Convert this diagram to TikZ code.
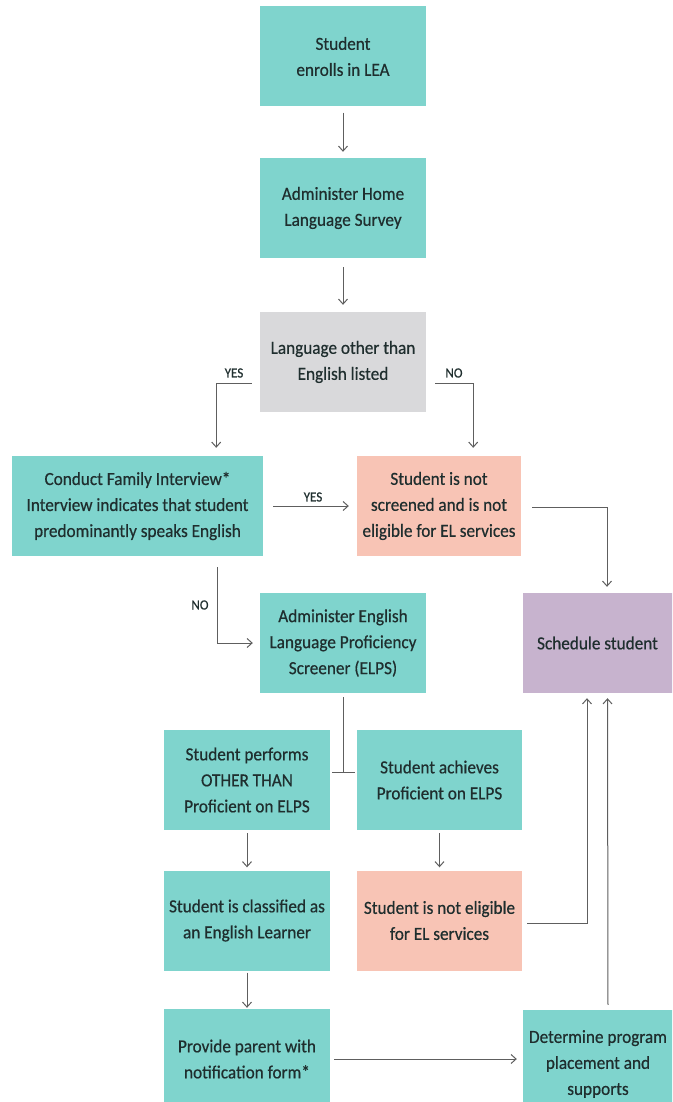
\documentclass[tikz,border=0pt]{standalone}
\usepackage{fontspec}
\setmainfont{Carlito}[FakeStretch=0.93, FakeBold=0.5]
\usetikzlibrary{arrows.meta}
\definecolor{tealbox}{HTML}{7FD4CD}
\definecolor{salmonbox}{HTML}{F8C4B5}
\definecolor{greybox}{HTML}{D9D9DB}
\definecolor{lilacbox}{HTML}{C7B3CE}
\definecolor{ink}{HTML}{1F2E2E}
\definecolor{wire}{HTML}{5E5E5E}

\begin{document}
\begin{tikzpicture}[
    x=1pt, y=-1pt,
    every node/.style={rectangle, inner sep=2pt, align=center, text=ink,
        font=\fontsize{18.5}{26}\selectfont},
    box/.style={fill=tealbox, minimum width=166pt, minimum height=100pt},
    nobox/.style={box, fill=salmonbox},
    askbox/.style={box, fill=greybox},
    endbox/.style={box, fill=lilacbox, minimum width=150pt},
    lbl/.style={font=\fontsize{14}{16}\selectfont},
    line/.style={draw=wire, line width=1pt},
    arr/.style={line, -{Straight Barb[length=5pt, width=9pt]}}
]
\useasboundingbox (0,0) rectangle (672,1102);
\clip (0,0) rectangle (672,1102);

\node[box] (0) at (343,56.5) {Student\\enrolls in LEA};
\node[box] (1) at (343,208) {Administer Home\\Language Survey};
\node[askbox] (2) at (343,362) {Language other than\\English listed};
\node[box, minimum width=251pt] (3) at (137.5,506) {Conduct Family Interview*\\Interview indicates that student\\predominantly speaks English};
\node[nobox, minimum width=164pt] (4) at (439,506) {Student is not\\screened and is not\\eligible for EL services};
\node[box] (5) at (343,643) {Administer English\\Language Proficiency\\Screener (ELPS)};
\node[endbox] (6) at (597.5,643) {Schedule student};
\node[box] (7) at (247,780) {Student performs\\OTHER THAN\\Proficient on ELPS};
\node[box, minimum width=165pt] (8) at (439.5,780) {Student achieves\\Proficient on ELPS};
\node[box] (9) at (247,920.5) {Student is classified as\\an English Learner};
\node[nobox, minimum width=165pt] (10) at (439.5,920.5) {Student is not eligible\\for EL services};
\node[box] (11) at (247,1059) {Provide parent with\\notification form*};
\node[endbox, fill=tealbox, minimum height=108pt] (12) at (598,1064) {Determine program\\placement and\\supports};

\coordinate (split) at (343,772);

\node[lbl] (yes1) at (234,373) {YES};
\node[lbl] (no1) at (454,373) {NO};
\node[lbl] (yes2) at (313,497) {YES};
\node[lbl] (no2) at (200,605) {NO};

\draw[arr, shorten <=6pt, shorten >=6pt] (0) -- (1);
\draw[arr, shorten <=9pt, shorten >=7pt] (1) -- (2);
\draw[arr, shorten <=8pt, shorten >=8pt] ([yshift=29pt]2.south west) -| ([xshift=-47pt]3.north east);
\draw[arr, shorten <=9pt, shorten >=8pt] ([yshift=29pt]2.south east) -| ([xshift=-48pt]4.north east);
\draw[arr, shorten <=10pt, shorten >=8pt] (3.east) -- (4.west);
\draw[arr, shorten <=11pt, shorten >=6pt] ([yshift=-1pt]4.east) -| ([xshift=9.5pt]6.north);
\draw[arr, shorten <=11pt, shorten >=7pt] ([xshift=-46pt]3.south east) |- (5.west);
\draw[line, shorten <=4pt] (5) -- (split);
\draw[line, shorten <=2pt, shorten >=2pt] ([yshift=8pt]7.east) -- ([yshift=8pt]8.west);
\draw[arr, shorten <=3pt, shorten >=3pt] (7) -- (9);
\draw[arr, shorten <=3pt, shorten >=3pt] (8) -- (10);
\draw[arr, shorten <=2pt, shorten >=1pt] (9) -- (11);
\draw[arr, shorten <=5pt, shorten >=5pt] ([yshift=-2.5pt]10.east) -| ([xshift=-10.5pt]6.south);
\draw[arr, shorten <=4pt, shorten >=6pt] (11.east) -- (11.east -| 12.west);
\draw[arr, shorten <=5pt, shorten >=5pt] ([xshift=10pt]12.north) -- ([xshift=10pt]6.south);

\end{tikzpicture}
\end{document}
